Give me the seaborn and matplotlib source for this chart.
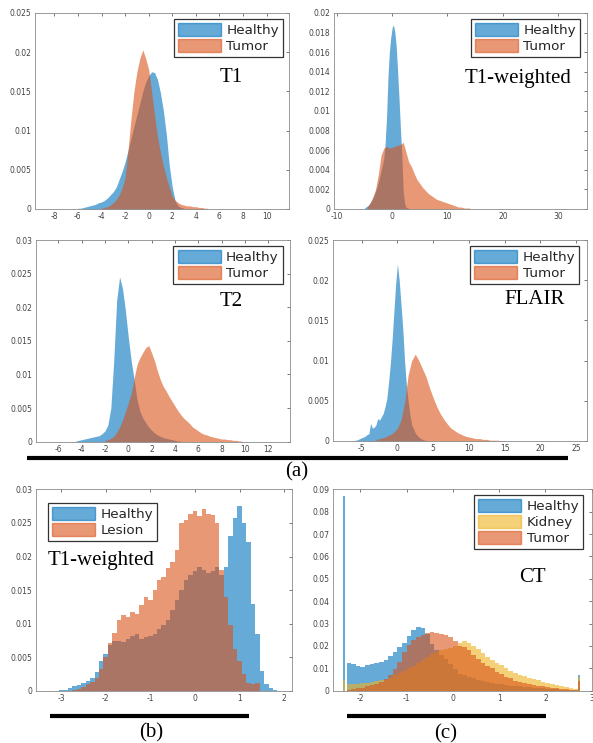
import numpy as np
import matplotlib
matplotlib.use('Agg')
import matplotlib.pyplot as plt
import seaborn as sns
from matplotlib.patches import Patch
from matplotlib.lines import Line2D
from matplotlib.ticker import FuncFormatter

sns.set_theme(style="white")
plt.rcParams['font.family'] = ['DejaVu Sans']

# MATLAB default colours, histograms drawn with FaceAlpha 0.6
BLUE = (0.0, 0.447, 0.741)
ORANGE = (0.85, 0.325, 0.098)
YELLOW = (0.929, 0.694, 0.125)
ALPHA = 0.6

# ---------------- data: normalised bin heights ----------------
# (a) T1
t1_healthy_start, t1_healthy_step = -6.0, 0.25
t1_healthy = [0.0001, 0.0001, 0.0002, 0.0003, 0.0004, 0.0005, 0.0006, 0.0008, 0.0009,
              0.0011, 0.0014, 0.0018, 0.0022, 0.0028, 0.0038, 0.0048, 0.0060, 0.0075,
              0.0090, 0.0105, 0.0120, 0.0135, 0.0150, 0.0162, 0.0170, 0.0175, 0.0174,
              0.0165, 0.0148, 0.0125, 0.0095, 0.0055, 0.0028, 0.0010, 0.0004, 0.0002, 0.0001]
t1_tumor_start, t1_tumor_step = -4.0, 0.25
t1_tumor = [0.0001, 0.0002, 0.0003, 0.0005, 0.0008, 0.0012, 0.0018, 0.0027, 0.0040,
            0.0075, 0.0115, 0.0150, 0.0175, 0.0192, 0.0203, 0.0192, 0.0178, 0.0150,
            0.0120, 0.0092, 0.0072, 0.0055, 0.0040, 0.0028, 0.0016, 0.0011, 0.0008,
            0.0006, 0.0005, 0.0004, 0.0004, 0.0003, 0.0003, 0.0002, 0.0002, 0.0001, 0.0001]

# (a) T1-weighted
t1w_healthy_start, t1w_healthy_step = -5.0, 0.25
t1w_healthy = [0.0001, 0.0002, 0.0003, 0.0004, 0.0006, 0.0008, 0.0011, 0.0014, 0.0018,
               0.0022, 0.0027, 0.0033, 0.0039, 0.0045, 0.0052, 0.0068, 0.0095, 0.0135,
               0.0160, 0.0175, 0.0185, 0.0188, 0.0180, 0.0165, 0.0140, 0.0112, 0.0082,
               0.0055, 0.0018, 0.0006, 0.0002, 0.0001, 0.0001]
t1w_tumor_start, t1w_tumor_step = -4.5, 0.5
t1w_tumor = [0.0002, 0.0006, 0.0012, 0.0020, 0.0035, 0.0055, 0.0062, 0.0064, 0.0062,
             0.0063, 0.0064, 0.0065, 0.0066, 0.0068, 0.0058, 0.0048, 0.0043, 0.0036,
             0.0030, 0.0026, 0.0022, 0.0019, 0.0016, 0.0014, 0.0012, 0.0010, 0.0009,
             0.0008, 0.0007, 0.0006, 0.0005, 0.0004, 0.0003, 0.0002, 0.0002, 0.0001,
             0.0001, 0.0001]

# (a) T2
t2_healthy_start, t2_healthy_step = -4.5, 0.25
t2_healthy = [0.0001, 0.0002, 0.0003, 0.0004, 0.0005, 0.0006, 0.0007, 0.0008, 0.0009,
              0.0012, 0.0016, 0.0025, 0.0050, 0.0120, 0.0210, 0.0245, 0.0228, 0.0195,
              0.0155, 0.0120, 0.0092, 0.0062, 0.0045, 0.0035, 0.0028, 0.0022, 0.0017,
              0.0013, 0.0010, 0.0008, 0.0006, 0.0005, 0.0004, 0.0003, 0.0002, 0.0001, 0.0001]
t2_tumor_start, t2_tumor_step = -2.0, 0.25
t2_tumor = [0.0002, 0.0003, 0.0005, 0.0008, 0.0014, 0.0022, 0.0032, 0.0045, 0.0058,
            0.0072, 0.0095, 0.0115, 0.0125, 0.0133, 0.0140, 0.0143, 0.0132, 0.0120,
            0.0105, 0.0092, 0.0082, 0.0075, 0.0067, 0.0060, 0.0053, 0.0046, 0.0040,
            0.0035, 0.0031, 0.0027, 0.0022, 0.0019, 0.0016, 0.0013, 0.0011, 0.0010,
            0.0008, 0.0007, 0.0006, 0.0005, 0.0004, 0.0004, 0.0003, 0.0003, 0.0002,
            0.0002, 0.0001, 0.0001]

# (a) FLAIR
flair_healthy_start, flair_healthy_step = -6.0, 0.25
flair_healthy = [0.0001, 0.0001, 0.0002, 0.0003, 0.0004, 0.0005, 0.0006, 0.0008, 0.0009,
                 0.0022, 0.0016, 0.0017, 0.0020, 0.0028, 0.0026, 0.0030, 0.0034, 0.0042,
                 0.0052, 0.0072, 0.0095, 0.0125, 0.0160, 0.0195, 0.0220, 0.0200, 0.0170,
                 0.0140, 0.0100, 0.0070, 0.0050, 0.0033, 0.0020, 0.0015, 0.0010, 0.0007,
                 0.0005, 0.0003, 0.0002, 0.0001, 0.0001]
flair_tumor_start, flair_tumor_step = -3.0, 0.5
flair_tumor = [0.0002, 0.0003, 0.0004, 0.0006, 0.0008, 0.0011, 0.0016, 0.0026, 0.0048,
               0.0082, 0.0100, 0.0108, 0.0100, 0.0090, 0.0080, 0.0066, 0.0054, 0.0043,
               0.0034, 0.0027, 0.0021, 0.0016, 0.0013, 0.0010, 0.0008, 0.0006, 0.0005,
               0.0004, 0.0003, 0.0003, 0.0002, 0.0002, 0.0001, 0.0001, 0.0001, 0.00005,
               0.00005]

# (b) T1-weighted, healthy vs lesion
b_healthy_start, b_healthy_step = -3.0, 0.1
b_healthy = [0.0001, 0.0002, 0.0005, 0.0007, 0.0009, 0.0012, 0.0015, 0.0020, 0.0028,
             0.0045, 0.0055, 0.0068, 0.0075, 0.0075, 0.0073, 0.0078, 0.0082, 0.0085,
             0.0078, 0.0080, 0.0082, 0.0085, 0.0092, 0.0098, 0.0105, 0.0120, 0.0135,
             0.0150, 0.0165, 0.0172, 0.0178, 0.0185, 0.0180, 0.0175, 0.0178, 0.0185,
             0.0172, 0.0185, 0.0230, 0.0258, 0.0275, 0.0250, 0.0222, 0.0130, 0.0085,
             0.0030, 0.0011, 0.0004, 0.0001]
b_lesion_start, b_lesion_step = -2.7, 0.1
b_lesion = [0.0002, 0.0003, 0.0006, 0.0010, 0.0014, 0.0020, 0.0032, 0.0050, 0.0071,
            0.0086, 0.0106, 0.0113, 0.0110, 0.0118, 0.0115, 0.0128, 0.0140, 0.0135,
            0.0150, 0.0165, 0.0170, 0.0183, 0.0192, 0.0210, 0.0250, 0.0255, 0.0264,
            0.0267, 0.0260, 0.0270, 0.0264, 0.0262, 0.0250, 0.0180, 0.0140, 0.0098,
            0.0062, 0.0045, 0.0025, 0.0012, 0.0010, 0.0012]

# (c) CT, healthy / kidney / tumor
ct_start, ct_step = -2.25, 0.1
ct_healthy = [0.0125, 0.0118, 0.0110, 0.0108, 0.0115, 0.0120, 0.0125, 0.0130, 0.0138,
              0.0155, 0.0175, 0.0195, 0.0215, 0.0245, 0.0270, 0.0285, 0.0280, 0.0255,
              0.0210, 0.0180, 0.0160, 0.0140, 0.0120, 0.0095, 0.0075, 0.0068, 0.0062,
              0.0056, 0.0050, 0.0045, 0.0040, 0.0035, 0.0032, 0.0029, 0.0026, 0.0023,
              0.0021, 0.0019, 0.0017, 0.0015, 0.0014, 0.0012, 0.0010, 0.0009, 0.0008,
              0.0006, 0.0005, 0.0004, 0.0003, 0.0002]
ct_kidney = [0.0030, 0.0030, 0.0032, 0.0034, 0.0036, 0.0038, 0.0042, 0.0046, 0.0050,
             0.0058, 0.0068, 0.0078, 0.0090, 0.0102, 0.0112, 0.0125, 0.0138, 0.0150,
             0.0162, 0.0172, 0.0180, 0.0185, 0.0190, 0.0200, 0.0212, 0.0222, 0.0215,
             0.0200, 0.0185, 0.0168, 0.0152, 0.0138, 0.0125, 0.0115, 0.0102, 0.0090,
             0.0080, 0.0072, 0.0065, 0.0058, 0.0052, 0.0046, 0.0040, 0.0035, 0.0030,
             0.0026, 0.0022, 0.0018, 0.0013, 0.0008]
ct_tumor = [0.0003, 0.0006, 0.0010, 0.0014, 0.0019, 0.0025, 0.0032, 0.0040, 0.0052,
            0.0070, 0.0095, 0.0130, 0.0175, 0.0205, 0.0225, 0.0240, 0.0250, 0.0258,
            0.0262, 0.0258, 0.0255, 0.0250, 0.0240, 0.0222, 0.0200, 0.0195, 0.0180,
            0.0160, 0.0140, 0.0125, 0.0112, 0.0100, 0.0085, 0.0075, 0.0062, 0.0055,
            0.0045, 0.0040, 0.0034, 0.0028, 0.0025, 0.0022, 0.0019, 0.0017, 0.0014,
            0.0011, 0.0009, 0.0007, 0.0005, 0.0004]
# clipped values piled up at both ends of the CT range
ct_spike_x = [-2.35, 2.72]
ct_spike_step = 0.04
ct_spike_healthy = [0.087, 0.007]
ct_spike_kidney = [0.0048, 0.006]
ct_spike_tumor = [0.0, 0.0045]

W, H = 593, 743
fig = plt.figure(figsize=(W / 100, H / 100), dpi=100)


def add_axes_px(left, top, right, bottom):
    return fig.add_axes([left / W, 1 - bottom / H, (right - left) / W, (bottom - top) / H])


def draw_hist(ax, start, step, heights, color, element='step'):
    centers = start + step * np.arange(len(heights))
    edges = np.append(centers - step / 2, centers[-1] + step / 2)
    sns.histplot(x=centers, weights=heights, bins=edges.tolist(), stat='count',
                 element=element, fill=True, color=color, alpha=ALPHA,
                 linewidth=0, ax=ax)


def draw_spikes(ax, xs, heights, color):
    xs = np.array(xs)
    edges = np.sort(np.concatenate([xs - ct_spike_step / 2, xs + ct_spike_step / 2]))
    # the wide bin between the two spikes stays empty
    sns.histplot(x=xs, weights=heights, bins=edges.tolist(), stat='count', element='bars',
                 fill=True, color=color, alpha=ALPHA, linewidth=0, ax=ax)


def matlab_style(ax, xlim, xticks, ylim, yticks):
    ax.set_xlim(xlim)
    ax.set_ylim(ylim)
    ax.set_xticks(xticks)
    ax.set_yticks(yticks)
    fmt = FuncFormatter(lambda v, p: f"{v:g}")
    ax.xaxis.set_major_formatter(fmt)
    ax.yaxis.set_major_formatter(fmt)
    ax.tick_params(direction='in', top=True, right=True, length=2.5, width=0.5,
                   labelsize=5.5, colors='#444444', pad=2.5)
    for s in ax.spines.values():
        s.set_visible(True)
        s.set_color('#8a8a8a')
        s.set_linewidth(0.6)
    ax.set_xlabel('')
    ax.set_ylabel('')
    ax.grid(False)


def add_legend(ax, labels, colors, x_px, y_px, loc='upper right'):
    handles = [Patch(facecolor=c, edgecolor=c, alpha=ALPHA, label=l)
               for l, c in zip(labels, colors)]
    leg = ax.legend(handles=handles, loc=loc, bbox_to_anchor=(x_px / W, 1 - y_px / H),
                    bbox_transform=fig.transFigure, fontsize=9.7, frameon=True,
                    fancybox=False, borderpad=0.3, labelspacing=0.15,
                    handlelength=3.2, handleheight=1.1, handletextpad=0.4,
                    borderaxespad=0, framealpha=1)
    leg.get_frame().set_edgecolor('#333333')
    leg.get_frame().set_linewidth(0.9)
    for t in leg.get_texts():
        t.set_color('#262626')


def serif_text(x_px, y_px, s):
    fig.text(x_px / W, 1 - y_px / H, s, ha='center', va='center',
             family='Liberation Serif', fontsize=15, color='black')


def black_bar(x0, x1, y):
    fig.add_artist(Line2D([x0 / W, x1 / W], [1 - y / H, 1 - y / H], color='black',
                          lw=3, solid_capstyle='butt', transform=fig.transFigure))


# ---- (a) T1 ----
ax = add_axes_px(35, 13, 289, 209)
draw_hist(ax, t1_healthy_start, t1_healthy_step, t1_healthy, BLUE, 'poly')
draw_hist(ax, t1_tumor_start, t1_tumor_step, t1_tumor, ORANGE, 'poly')
matlab_style(ax, (-9.64, 11.9), np.arange(-8, 11, 2), (0, 0.025), np.arange(0, 0.0251, 0.005))
add_legend(ax, ['Healthy', 'Tumor'], [BLUE, ORANGE], 283, 19)
serif_text(231, 78, 'T1')

# ---- (a) T1-weighted ----
ax = add_axes_px(334, 13, 587, 209)
draw_hist(ax, t1w_healthy_start, t1w_healthy_step, t1w_healthy, BLUE, 'poly')
draw_hist(ax, t1w_tumor_start, t1w_tumor_step, t1w_tumor, ORANGE, 'poly')
matlab_style(ax, (-10.5, 35.2), np.arange(-10, 31, 10), (0, 0.02), np.arange(0, 0.0201, 0.002))
add_legend(ax, ['Healthy', 'Tumor'], [BLUE, ORANGE], 580, 19)
serif_text(518, 79, 'T1-weighted')

# ---- (a) T2 ----
ax = add_axes_px(35.7, 240, 290, 441.7)
draw_hist(ax, t2_healthy_start, t2_healthy_step, t2_healthy, BLUE, 'poly')
draw_hist(ax, t2_tumor_start, t2_tumor_step, t2_tumor, ORANGE, 'poly')
matlab_style(ax, (-7.94, 13.86), np.arange(-6, 13, 2), (0, 0.03), np.arange(0, 0.0301, 0.005))
add_legend(ax, ['Healthy', 'Tumor'], [BLUE, ORANGE], 282.7, 246)
serif_text(231, 302, 'T2')

# ---- (a) FLAIR ----
ax = add_axes_px(332.7, 240, 586.7, 441)
draw_hist(ax, flair_healthy_start, flair_healthy_step, flair_healthy, BLUE, 'poly')
draw_hist(ax, flair_tumor_start, flair_tumor_step, flair_tumor, ORANGE, 'poly')
matlab_style(ax, (-9.06, 26.5), np.arange(-5, 26, 5), (0, 0.025), np.arange(0, 0.0251, 0.005))
add_legend(ax, ['Healthy', 'Tumor'], [BLUE, ORANGE], 579.3, 246)
serif_text(535, 300, 'FLAIR')

black_bar(27, 568, 458)
serif_text(297, 472, '(a)')

# ---- (b) T1-weighted lesion ----
ax = add_axes_px(35.7, 489.3, 291.7, 691)
draw_hist(ax, b_healthy_start, b_healthy_step, b_healthy, BLUE)
draw_hist(ax, b_lesion_start, b_lesion_step, b_lesion, ORANGE)
matlab_style(ax, (-3.57, 2.17), np.arange(-3, 3, 1), (0, 0.03), np.arange(0, 0.0301, 0.005))
add_legend(ax, ['Healthy', 'Lesion'], [BLUE, ORANGE], 47.7, 502.7, loc='upper left')
serif_text(101, 561, 'T1-weighted')

black_bar(50, 249, 716)
serif_text(151, 733, '(b)')

# ---- (c) CT ----
ax = add_axes_px(332.7, 489.3, 591.7, 690.7)
draw_hist(ax, ct_start, ct_step, ct_healthy, BLUE)
draw_spikes(ax, ct_spike_x, ct_spike_healthy, BLUE)
draw_hist(ax, ct_start, ct_step, ct_kidney, YELLOW)
draw_spikes(ax, ct_spike_x, ct_spike_kidney, YELLOW)
draw_hist(ax, ct_start, ct_step, ct_tumor, ORANGE)
draw_spikes(ax, ct_spike_x, ct_spike_tumor, ORANGE)
matlab_style(ax, (-2.6, 3.0), np.arange(-2, 4, 1), (0, 0.09), np.arange(0, 0.0901, 0.01))
add_legend(ax, ['Healthy', 'Kidney', 'Tumor'], [BLUE, YELLOW, ORANGE], 583.3, 495)
serif_text(532, 577, 'CT')

black_bar(346.7, 545.7, 716)
serif_text(446, 734, '(c)')

fig.savefig('out.png', dpi=100)
